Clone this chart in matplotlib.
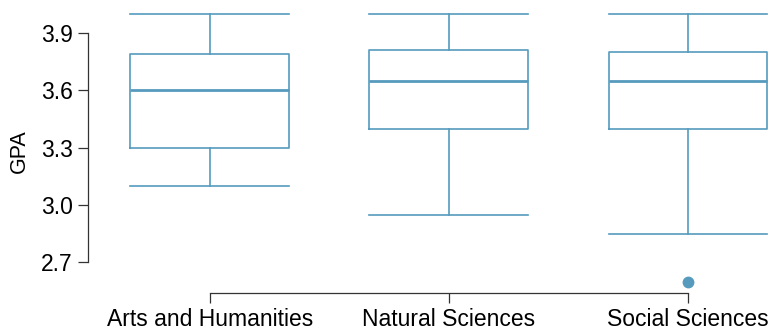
import matplotlib
matplotlib.use("Agg")
import matplotlib.pyplot as plt

categories = ["Arts and Humanities", "Natural Sciences", "Social Sciences"]
whisker_low = [3.10, 2.95, 2.85]
q1 = [3.30, 3.40, 3.40]
median = [3.60, 3.65, 3.65]
q3 = [3.79, 3.81, 3.80]
whisker_high = [4.00, 4.00, 4.00]
outliers = [[], [], [2.60]]
yticks = [2.7, 3.0, 3.3, 3.6, 3.9]

blue = "#569BBD"
plt.rcParams["font.family"] = ["Liberation Sans", "DejaVu Sans"]

stats = []
for i, name in enumerate(categories):
    stats.append(dict(label=name, whislo=whisker_low[i], q1=q1[i], med=median[i],
                      q3=q3[i], whishi=whisker_high[i], fliers=outliers[i]))

fig = plt.figure(figsize=(7.72, 3.30), dpi=100)
ax = fig.add_axes([88 / 772, 37 / 330, 682 / 772, (293 - 10.1) / 330])

ax.bxp(stats, positions=[1, 2, 3], widths=0.665,
       boxprops=dict(color=blue, linewidth=1.2),
       whiskerprops=dict(color=blue, linewidth=1.2),
       capprops=dict(color=blue, linewidth=1.2),
       medianprops=dict(color=blue, linewidth=2.0),
       flierprops=dict(marker="o", markerfacecolor=blue, markeredgecolor=blue, markersize=7.5),
       capwidths=0.665)

ax.set_xlim(0.49, 3.343)
ax.set_ylim(2.54, 4.02)
ax.set_yticks(yticks)
ax.set_yticklabels(["%.1f" % v for v in yticks])
ax.set_ylabel("GPA", fontsize=15.5, labelpad=8)

for s in ["top", "right"]:
    ax.spines[s].set_visible(False)
ax.spines["left"].set_bounds(2.7, 3.9)
ax.spines["bottom"].set_bounds(1, 3)
for s in ["left", "bottom"]:
    ax.spines[s].set_color("#333333")
    ax.spines[s].set_linewidth(0.9)
ax.tick_params(axis="both", length=7, width=0.9, color="#333333", labelsize=16.5)
ax.tick_params(axis="y", pad=4)
ax.tick_params(axis="x", pad=4)

plt.savefig("out.png", dpi=100)
